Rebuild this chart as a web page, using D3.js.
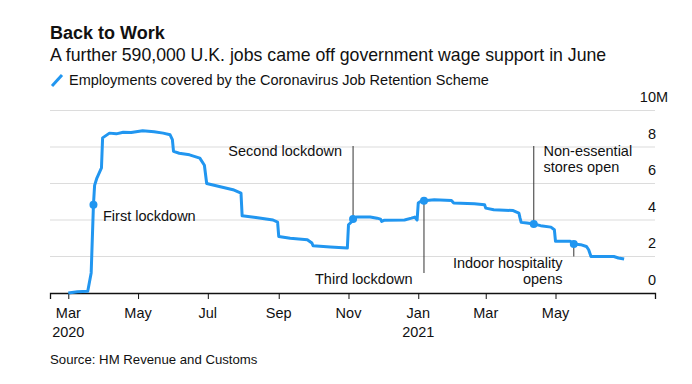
<!doctype html>
<html>
<head>
	<script src="https://d3js.org/d3.v7.min.js"></script>
	<style>
		body { margin: 0; background: #fff; }
		text { font-family: "Liberation Sans", Arial, Helvetica, sans-serif; fill: #111; }
	</style>
</head>
<body>
	<div id="chart"></div>
	<script>
		// employments on furlough, millions
		var dates = [
			"2020-03-01", "2020-03-09", "2020-03-18", "2020-03-21", "2020-03-23", "2020-03-24",
			"2020-03-26", "2020-03-30", "2020-03-31", "2020-04-06", "2020-04-12", "2020-04-18",
			"2020-04-25", "2020-05-05", "2020-05-15", "2020-05-23", "2020-05-29", "2020-05-31",
			"2020-06-01", "2020-06-06", "2020-06-15", "2020-06-24", "2020-06-28", "2020-06-30",
			"2020-07-11", "2020-07-23", "2020-07-30", "2020-07-31", "2020-08-12", "2020-08-27",
			"2020-08-31", "2020-09-01", "2020-09-11", "2020-09-26", "2020-09-30", "2020-10-01",
			"2020-10-16", "2020-10-31", "2020-11-01", "2020-11-04", "2020-11-05", "2020-11-08",
			"2020-11-20", "2020-11-26", "2020-11-29", "2020-11-30", "2020-12-02", "2020-12-20",
			"2020-12-26", "2020-12-29", "2020-12-31", "2021-01-01", "2021-01-03", "2021-01-06",
			"2021-01-15", "2021-01-30", "2021-02-01", "2021-02-19", "2021-02-28", "2021-03-01",
			"2021-03-08", "2021-03-25", "2021-03-30", "2021-03-31", "2021-04-01", "2021-04-06",
			"2021-04-12", "2021-04-18", "2021-04-27", "2021-04-30", "2021-05-01", "2021-05-14",
			"2021-05-17", "2021-05-23", "2021-05-28", "2021-05-30", "2021-06-01", "2021-06-21",
			"2021-06-25", "2021-06-30"
		];
		var employments = [
			0, 0.07, 0.1, 1.1, 4.84, 5.9,
			6.3, 6.85, 8.5, 8.76, 8.72, 8.81,
			8.8, 8.89, 8.84, 8.76, 8.67, 8.4,
			7.76, 7.66, 7.57, 7.39, 7.0, 6.0,
			5.84, 5.66, 5.47, 4.23, 4.14, 4.0,
			3.89, 3.1, 3.0, 2.92, 2.74, 2.59,
			2.52, 2.46, 3.74, 3.92, 4.05, 4.16,
			4.16, 4.1, 4.05, 3.92, 3.98, 4.0,
			4.1, 4.16, 4.0, 4.93, 5.02, 5.05,
			5.11, 5.07, 4.93, 4.89, 4.84, 4.65,
			4.56, 4.52, 4.38, 4.1, 3.87, 3.83,
			3.78, 3.69, 3.61, 3.47, 2.83, 2.83,
			2.68, 2.65, 2.55, 2.37, 2.0, 2.0,
			1.92, 1.86
		];

		var eventNames = [["First lockdown"], ["Second lockdown"], ["Third lockdown"],
			["Non-essential", "stores open"], ["Indoor hospitality", "opens"]];
		var eventDates = ["2020-03-23", "2020-11-05", "2021-01-06", "2021-04-12", "2021-05-17"];

		var yTicks = [0, 2, 4, 6, 8, 10];
		var xTicks = ["2020-03-01", "2020-05-01", "2020-07-01", "2020-09-01", "2020-11-01",
			"2021-01-01", "2021-03-01", "2021-05-01"];

		var W = 692, H = 384;
		var parse = d3.timeParse("%Y-%m-%d");
		var data = dates.map(function(d, i) { return {date: parse(d), value: employments[i]}; });

		var svg = d3.select("#chart").append("svg")
			.attr("width", W).attr("height", H);

		var x = d3.scaleTime()
			.domain([parse("2020-02-14"), parse("2021-07-27")])
			.range([50, 655]);
		var y = d3.scaleLinear()
			.domain([0, 10])
			.range([293, 110.5]);

		// titles
		svg.append("text").attr("x", 50).attr("y", 39)
			.style("font-size", "18px").style("font-weight", "bold")
			.text("Back to Work");
		svg.append("text").attr("x", 50).attr("y", 61)
			.style("font-size", "17.7px")
			.text("A further 590,000 U.K. jobs came off government wage support in June");

		// legend
		svg.append("line")
			.attr("x1", 52).attr("y1", 86).attr("x2", 62).attr("y2", 75)
			.attr("stroke", "#2196f0").attr("stroke-width", 3);
		svg.append("text").attr("x", 69).attr("y", 85)
			.style("font-size", "14.5px")
			.text("Employments covered by the Coronavirus Job Retention Scheme");

		// grid
		svg.append("g").selectAll("line")
			.data(yTicks.filter(function(d) { return d > 0; }))
			.enter().append("line")
			.attr("x1", 50).attr("x2", 655)
			.attr("y1", function(d) { return y(d); })
			.attr("y2", function(d) { return y(d); })
			.attr("stroke", "#dcdcdc").attr("stroke-width", 1.2);

		// y labels sit above their gridline
		var yl = svg.append("g");
		yl.selectAll("text")
			.data(yTicks)
			.enter().append("text")
			.attr("x", 656)
			.attr("y", function(d) { return y(d) - 8.5; })
			.attr("text-anchor", "end")
			.style("font-size", "14.5px")
			.text(function(d) { return d; });
		yl.append("text")
			.attr("x", 656).attr("y", y(10) - 8.5)
			.style("font-size", "14.5px")
			.text("M");

		// x axis
		var xAxis = d3.axisBottom(x)
			.tickValues(xTicks.map(parse))
			.tickSize(6)
			.tickFormat("");
		var gx = svg.append("g")
			.attr("transform", "translate(0," + y(0) + ")")
			.call(xAxis);
		gx.select(".domain").attr("stroke", "#111").attr("stroke-width", 1.3);
		gx.selectAll(".tick line").attr("stroke", "#111");

		var tickLbl = svg.append("g").selectAll("text")
			.data(xTicks.map(parse))
			.enter().append("text")
			.attr("x", function(d) { return x(d); })
			.attr("y", 318)
			.attr("text-anchor", "middle")
			.style("font-size", "14.5px");
		tickLbl.append("tspan")
			.text(d3.timeFormat("%b"));
		tickLbl.filter(function(d) { return d.getMonth() === 0 || +d === +parse("2020-03-01"); })
			.append("tspan")
			.attr("x", function(d) { return x(d); })
			.attr("dy", 19)
			.text(d3.timeFormat("%Y"));

		// annotations
		var ann = [
			{top: null, bottom: null, tx: 103, ty: [221], anchor: "start"},
			{top: 146, bottom: null, tx: 342, ty: [156], anchor: "end"},
			{top: null, bottom: 273, tx: 412.5, ty: [284], anchor: "end"},
			{top: 146, bottom: null, tx: 543.5, ty: [156, 172], anchor: "start"},
			{top: null, bottom: y(2), tx: 562.5, ty: [268, 284], anchor: "end"}
		];
		var lookup = function(ds) {
			var t = +parse(ds);
			for (var i = 0; i < data.length; i++) { if (+data[i].date === t) return data[i]; }
		};
		var events = eventDates.map(function(d, i) {
			var p = lookup(d);
			return {date: p.date, value: p.value, names: eventNames[i], a: ann[i]};
		});

		var ag = svg.append("g");
		events.forEach(function(e) {
			var px = x(e.date), py = y(e.value);
			if (e.a.top !== null) {
				ag.append("line").attr("x1", px).attr("x2", px)
					.attr("y1", e.a.top).attr("y2", py)
					.attr("stroke", "#333").attr("stroke-width", 1);
			}
			if (e.a.bottom !== null) {
				ag.append("line").attr("x1", px).attr("x2", px)
					.attr("y1", py).attr("y2", e.a.bottom)
					.attr("stroke", "#333").attr("stroke-width", 1);
			}
			e.names.forEach(function(n, k) {
				ag.append("text")
					.attr("x", e.a.tx).attr("y", e.a.ty[k])
					.attr("text-anchor", e.a.anchor)
					.style("font-size", "14.5px")
					.text(n);
			});
		});

		// the line
		var line = d3.line()
			.x(function(d) { return x(d.date); })
			.y(function(d) { return y(d.value); });
		svg.append("path")
			.datum(data)
			.attr("fill", "none")
			.attr("stroke", "#2196f0")
			.attr("stroke-width", 3)
			.attr("stroke-linejoin", "round")
			.attr("d", line);

		svg.append("g").selectAll("circle")
			.data(events)
			.enter().append("circle")
			.attr("cx", function(d) { return x(d.date); })
			.attr("cy", function(d) { return y(d.value); })
			.attr("r", 4)
			.attr("fill", "#2196f0");

		// source
		svg.append("text").attr("x", 50).attr("y", 364)
			.style("font-size", "13.2px")
			.text("Source: HM Revenue and Customs");
	</script>
</body>
</html>
